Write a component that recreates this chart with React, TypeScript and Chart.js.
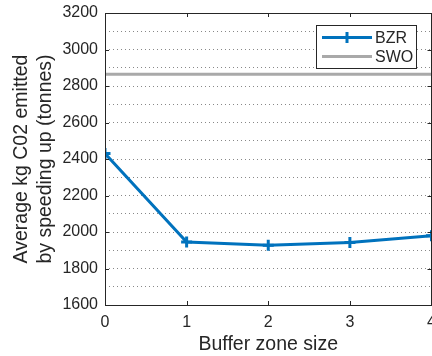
import React, { useEffect, useRef } from 'react';
import { Chart, registerables } from 'chart.js';

Chart.register(...registerables);

const bufferSizes = [0, 1, 2, 3, 4];
const bzrValues = [2430, 1945, 1928, 1942, 1980];
const swoXs = [0, 4];
const swoValue = 2865;
const seriesLabels = ['BZR', 'SWO'];
const xTitle = 'Buffer zone size';
const yTitleLines = ['Average kg C02 emitted', 'by speeding up (tonnes)'];
const yMin = 1600;
const yMax = 3200;
const yGridStep = 100;
const yLabelStep = 200;
const xMin = 0;
const xMax = 4;

const FONT = "'Liberation Sans', Arial, Helvetica, sans-serif";
const AXIS_COLOR = '#262626';
const BLUE = '#0072BD';
const GRAY = '#a9a9a9';

const CANVAS_W = 440;
const CANVAS_H = 356;

const framePlugin = {
  id: 'frame',
  afterDraw(chart: any) {
    const { ctx, chartArea: a, scales } = chart;
    const xs = scales.x;
    const ys = scales.y;
    ctx.save();
    ctx.strokeStyle = AXIS_COLOR;
    ctx.lineWidth = 1;
    ctx.strokeRect(Math.round(a.left) + 0.5, Math.round(a.top) + 0.5, Math.round(a.right - a.left) - 1, Math.round(a.bottom - a.top));
    const tl = 4;
    for (let v = xMin + 1; v < xMax; v++) {
      const px = Math.round(xs.getPixelForValue(v)) + 0.5;
      ctx.beginPath();
      ctx.moveTo(px, a.bottom);
      ctx.lineTo(px, a.bottom - tl);
      ctx.moveTo(px, a.top);
      ctx.lineTo(px, a.top + tl);
      ctx.stroke();
    }
    for (let v = yMin + yLabelStep; v < yMax; v += yLabelStep) {
      const py = Math.round(ys.getPixelForValue(v)) + 0.5;
      ctx.beginPath();
      ctx.moveTo(a.left, py);
      ctx.lineTo(a.left + tl, py);
      ctx.moveTo(a.right, py);
      ctx.lineTo(a.right - tl, py);
      ctx.stroke();
    }
    // axis titles
    ctx.fillStyle = AXIS_COLOR;
    ctx.font = `19.5px ${FONT}`;
    ctx.textAlign = 'center';
    ctx.textBaseline = 'alphabetic';
    ctx.fillText(xTitle, (a.left + a.right) / 2, 350);
    const cy = (a.top + a.bottom) / 2;
    const baselines = [27, 51];
    yTitleLines.forEach((t, i) => {
      ctx.save();
      ctx.translate(baselines[i], cy);
      ctx.rotate(-Math.PI / 2);
      ctx.fillText(t, 0, 0);
      ctx.restore();
    });
    // legend
    const lx = 316.5, ly = 25.5, lw = 100, lh = 43;
    ctx.fillStyle = '#ffffff';
    ctx.fillRect(lx, ly, lw, lh);
    ctx.strokeStyle = AXIS_COLOR;
    ctx.lineWidth = 1;
    ctx.strokeRect(lx, ly, lw, lh);
    const rows = [37.5, 56.5];
    chart.data.datasets.forEach((ds: any, i: number) => {
      const y = rows[i];
      ctx.strokeStyle = ds.borderColor;
      ctx.lineWidth = ds.borderWidth;
      ctx.beginPath();
      ctx.moveTo(322, y);
      ctx.lineTo(372, y);
      ctx.stroke();
      if (ds.pointRadius > 0) {
        const r = ds.pointRadius;
        ctx.lineWidth = ds.pointBorderWidth;
        ctx.beginPath();
        ctx.moveTo(347, y - r);
        ctx.lineTo(347, y + r);
        ctx.stroke();
      }
      ctx.fillStyle = AXIS_COLOR;
      ctx.font = `16px ${FONT}`;
      ctx.textAlign = 'left';
      ctx.textBaseline = 'middle';
      ctx.fillText(ds.label, 375, y + 1);
    });
    ctx.restore();
  },
};

export default function App() {
  const ref = useRef<HTMLCanvasElement | null>(null);
  useEffect(() => {
    if (!ref.current) return;
    const chart = new Chart(ref.current, {
      type: 'line',
      data: {
        datasets: [
          {
            label: seriesLabels[0],
            data: bufferSizes.map((x, i) => ({ x, y: bzrValues[i] })),
            borderColor: BLUE,
            backgroundColor: BLUE,
            borderWidth: 3,
            pointStyle: 'cross',
            pointRadius: 5.5,
            pointBorderWidth: 3,
            pointHoverRadius: 5.5,
            order: 0,
          },
          {
            label: seriesLabels[1],
            data: swoXs.map((x) => ({ x, y: swoValue })),
            borderColor: GRAY,
            backgroundColor: GRAY,
            borderWidth: 3,
            pointRadius: 0,
            pointBorderWidth: 0,
            order: 1,
          },
        ],
      },
      options: {
        animation: false,
        responsive: false,
        devicePixelRatio: 1,
        events: [],
        layout: { padding: { top: 13, right: 0, left: 0, bottom: 0 } },
        plugins: { legend: { display: false }, tooltip: { enabled: false } },
        scales: {
          x: {
            type: 'linear',
            min: xMin,
            max: xMax,
            ticks: {
              stepSize: 1,
              color: AXIS_COLOR,
              font: { family: FONT, size: 16 },
              padding: 0,
              maxRotation: 0,
              autoSkip: false,
            },
            grid: { display: false },
            border: { display: false },
            afterFit: (s: any) => {
              s.height = 51;
              s.paddingLeft = 0;
              s.paddingRight = 0;
            },
          },
          y: {
            type: 'linear',
            min: yMin,
            max: yMax,
            ticks: {
              stepSize: yGridStep,
              autoSkip: false,
              color: AXIS_COLOR,
              font: { family: FONT, size: 16 },
              padding: 7,
              callback: (v: any) => (Number(v) % yLabelStep === 0 ? String(v) : ''),
            },
            grid: { color: 'rgba(38,38,38,0.55)', lineWidth: 1, drawTicks: false },
            border: { display: false, dash: [1, 3] },
            afterFit: (s: any) => {
              s.width = 105;
              s.paddingTop = 0;
              s.paddingBottom = 0;
            },
          },
        },
      },
      plugins: [framePlugin],
    });
    return () => chart.destroy();
  }, []);
  return (
    <div style={{ position: 'absolute', left: 0, top: 0, width: 432, height: 356, overflow: 'hidden', background: '#fff' }}>
      <canvas ref={ref} width={CANVAS_W} height={CANVAS_H} style={{ display: 'block' }} />
    </div>
  );
}
